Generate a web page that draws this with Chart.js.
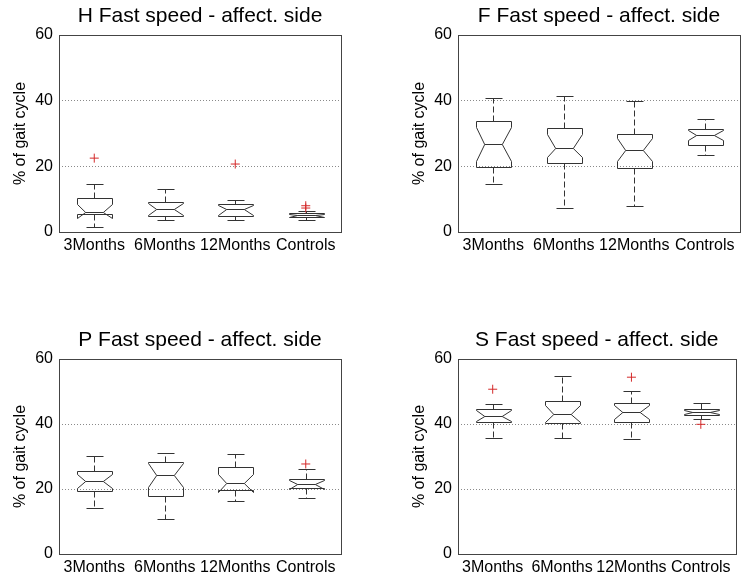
<!DOCTYPE html>
<html lang="en">
<head>
    <meta charset="UTF-8">
    <title>Fast speed - affect. side</title>
    <script src="https://cdn.jsdelivr.net/npm/chart.js"></script>
    <style>
        html, body {
            margin: 0;
            padding: 0;
            background: #fff;
        }
        .page {
            position: relative;
            width: 741px;
            height: 581px;
            overflow: hidden;
        }
        .page canvas {
            position: absolute;
        }
    </style>
</head>
<body>
<div class="page">
    <canvas id="chartH" width="370" height="260" style="left:0;top:0"></canvas>
    <canvas id="chartF" width="342" height="260" style="left:399px;top:0"></canvas>
    <canvas id="chartP" width="370" height="257" style="left:0;top:324px"></canvas>
    <canvas id="chartS" width="342" height="257" style="left:399px;top:324px"></canvas>
</div>
<script>
    const categories = ['3Months', '6Months', '12Months', 'Controls'];
    const yTicks = [0, 20, 40, 60];

    // H phase
    const hWhiskerLo = [1.4, 3.8, 3.8, 3.8];
    const hQ1        = [5.5, 4.9, 4.9, 4.5];
    const hNotchLo   = [4.2, 5.1, 5.3, 4.7];
    const hMedian    = [6.1, 7.0, 6.9, 5.1];
    const hNotchHi   = [8.5, 8.9, 8.3, 5.5];
    const hQ3        = [10.4, 9.0, 8.4, 5.8];
    const hWhiskerHi = [14.6, 13.1, 9.8, 6.5];
    const hOutliers  = [[22.5], [], [20.7], [8.0, 7.3]];

    // F phase
    const fWhiskerLo = [14.7, 7.4, 7.8, 23.4];
    const fQ1        = [19.8, 21.0, 19.5, 26.5];
    const fNotchLo   = [21.6, 22.9, 21.6, 27.9];
    const fMedian    = [26.8, 25.5, 24.9, 29.6];
    const fNotchHi   = [32.0, 30.0, 28.5, 31.2];
    const fQ3        = [33.9, 31.8, 30.0, 31.4];
    const fWhiskerHi = [40.9, 41.4, 40.0, 34.4];
    const fOutliers  = [[], [], [], []];

    // P phase
    const pWhiskerLo = [14.3, 10.9, 16.4, 17.2];
    const pQ1        = [19.5, 17.8, 19.7, 20.4];
    const pNotchLo   = [20.4, 20.7, 19.2, 20.0];
    const pMedian    = [22.4, 24.4, 21.8, 21.6];
    const pNotchHi   = [24.6, 28.1, 24.5, 22.8];
    const pQ3        = [25.6, 28.3, 26.8, 23.0];
    const pWhiskerHi = [30.2, 31.2, 30.7, 26.2];
    const pOutliers  = [[], [], [], [27.7]];

    // S phase
    const sWhiskerLo = [35.7, 35.6, 35.4, 41.4];
    const sQ1        = [40.5, 40.3, 40.6, 42.9];
    const sNotchLo   = [40.9, 40.5, 41.5, 43.1];
    const sMedian    = [42.6, 43.2, 43.6, 43.6];
    const sNotchHi   = [44.3, 45.8, 45.7, 44.2];
    const sQ3        = [44.5, 47.1, 46.4, 44.5];
    const sWhiskerHi = [46.1, 54.9, 50.1, 46.4];
    const sOutliers  = [[50.7], [], [54.4], [39.9]];

    const FONT = '"Liberation Sans", Arial, Helvetica, sans-serif';
    const LINE = '#333';

    // notched box + dashed whiskers, drawn through the chart scales
    const notchBox = {
        id: 'notchBox',
        beforeDatasetsDraw(chart, args, o) {
            const {ctx, scales: {x, y}} = chart;
            const half = (x.getPixelForValue(1) - x.getPixelForValue(0)) * 0.25;
            const snap = v => Math.round(v) + 0.5;
            const py = v => snap(y.getPixelForValue(v));
            const seg = (x1, y1, x2, y2) => {
                ctx.beginPath();
                ctx.moveTo(x1, y1);
                ctx.lineTo(x2, y2);
                ctx.stroke();
            };
            ctx.save();
            ctx.strokeStyle = LINE;
            ctx.lineWidth = 1;
            o.median.forEach((m, i) => {
                const cx = snap(x.getPixelForValue(i));
                const L = snap(cx - half), R = snap(cx + half);
                const iL = cx - half / 2, iR = cx + half / 2;

                // whiskers
                ctx.setLineDash([6, 3]);
                seg(cx, py(o.q3[i]), cx, py(o.hi[i]));
                seg(cx, py(o.q1[i]), cx, py(o.lo[i]));
                ctx.setLineDash([]);
                seg(snap(cx - half / 2), py(o.hi[i]), snap(cx + half / 2), py(o.hi[i]));
                seg(snap(cx - half / 2), py(o.lo[i]), snap(cx + half / 2), py(o.lo[i]));

                // box outline with notch
                ctx.beginPath();
                ctx.moveTo(L, py(o.q3[i]));
                ctx.lineTo(L, py(o.nhi[i]));
                ctx.lineTo(iL, py(m));
                ctx.lineTo(L, py(o.nlo[i]));
                ctx.lineTo(L, py(o.q1[i]));
                ctx.lineTo(R, py(o.q1[i]));
                ctx.lineTo(R, py(o.nlo[i]));
                ctx.lineTo(iR, py(m));
                ctx.lineTo(R, py(o.nhi[i]));
                ctx.lineTo(R, py(o.q3[i]));
                ctx.closePath();
                ctx.stroke();

                // median
                seg(iL, py(m), iR, py(m));
            });
            ctx.restore();
        },
        afterDatasetsDraw(chart) {
            const {ctx, chartArea: a} = chart;
            ctx.save();
            ctx.strokeStyle = '#444';
            ctx.lineWidth = 1;
            ctx.strokeRect(Math.round(a.left) + 0.5, Math.round(a.top) + 0.5,
                Math.round(a.width), Math.round(a.height));
            ctx.restore();
        }
    };

    function makePanel(id, title, stats, outliers, rightPad, xHeight) {
        const points = [];
        outliers.forEach((list, i) => list.forEach(v => points.push({x: categories[i], y: v})));

        return new Chart(document.getElementById(id), {
            type: 'line',
            data: {
                labels: categories,
                datasets: [{
                    data: points,
                    showLine: false,
                    pointStyle: 'cross',
                    pointRadius: 4.5,
                    pointHoverRadius: 4.5,
                    pointBorderWidth: 1,
                    borderColor: '#d42a2a',
                    backgroundColor: '#d42a2a'
                }]
            },
            options: {
                responsive: false,
                animation: false,
                events: [],
                layout: {padding: {left: 0, right: rightPad, top: 0, bottom: 0}},
                plugins: {
                    legend: {display: false},
                    tooltip: {enabled: false},
                    title: {
                        display: true,
                        text: title,
                        fullSize: false,
                        color: '#000',
                        font: {family: FONT, size: 21, weight: 'normal', lineHeight: 1.2},
                        padding: {top: 4, bottom: 5.8}
                    },
                    notchBox: stats
                },
                scales: {
                    x: {
                        type: 'category',
                        offset: true,
                        grid: {display: false, drawTicks: false},
                        border: {display: false},
                        ticks: {
                            color: '#000',
                            font: {family: FONT, size: 16},
                            padding: 4,
                            autoSkip: false,
                            minRotation: 0,
                            maxRotation: 0
                        },
                        afterFit: s => { s.height = xHeight; }
                    },
                    y: {
                        min: yTicks[0],
                        max: yTicks[yTicks.length - 1],
                        afterBuildTicks: s => { s.ticks = yTicks.map(v => ({value: v})); },
                        ticks: {
                            color: '#000',
                            font: {family: FONT, size: 16},
                            padding: 6
                        },
                        grid: {color: '#8a8a8a', drawTicks: false, borderDash: [1, 2]},
                        border: {display: false, dash: [1, 2]},
                        title: {
                            display: true,
                            text: '% of gait cycle',
                            color: '#000',
                            font: {family: FONT, size: 16, lineHeight: 1.2},
                            padding: {top: 10.5, bottom: 0}
                        },
                        afterFit: s => { s.width = 59; }
                    }
                }
            },
            plugins: [notchBox]
        });
    }

    makePanel('chartH', 'H Fast speed - affect. side', {
        lo: hWhiskerLo, q1: hQ1, nlo: hNotchLo, median: hMedian, nhi: hNotchHi, q3: hQ3, hi: hWhiskerHi
    }, hOutliers, 29, 28);

    makePanel('chartF', 'F Fast speed - affect. side', {
        lo: fWhiskerLo, q1: fQ1, nlo: fNotchLo, median: fMedian, nhi: fNotchHi, q3: fQ3, hi: fWhiskerHi
    }, fOutliers, 1, 28);

    makePanel('chartP', 'P Fast speed - affect. side', {
        lo: pWhiskerLo, q1: pQ1, nlo: pNotchLo, median: pMedian, nhi: pNotchHi, q3: pQ3, hi: pWhiskerHi
    }, pOutliers, 29, 27);

    makePanel('chartS', 'S Fast speed - affect. side', {
        lo: sWhiskerLo, q1: sQ1, nlo: sNotchLo, median: sMedian, nhi: sNotchHi, q3: sQ3, hi: sWhiskerHi
    }, sOutliers, 1, 27);
</script>
</body>
</html>
